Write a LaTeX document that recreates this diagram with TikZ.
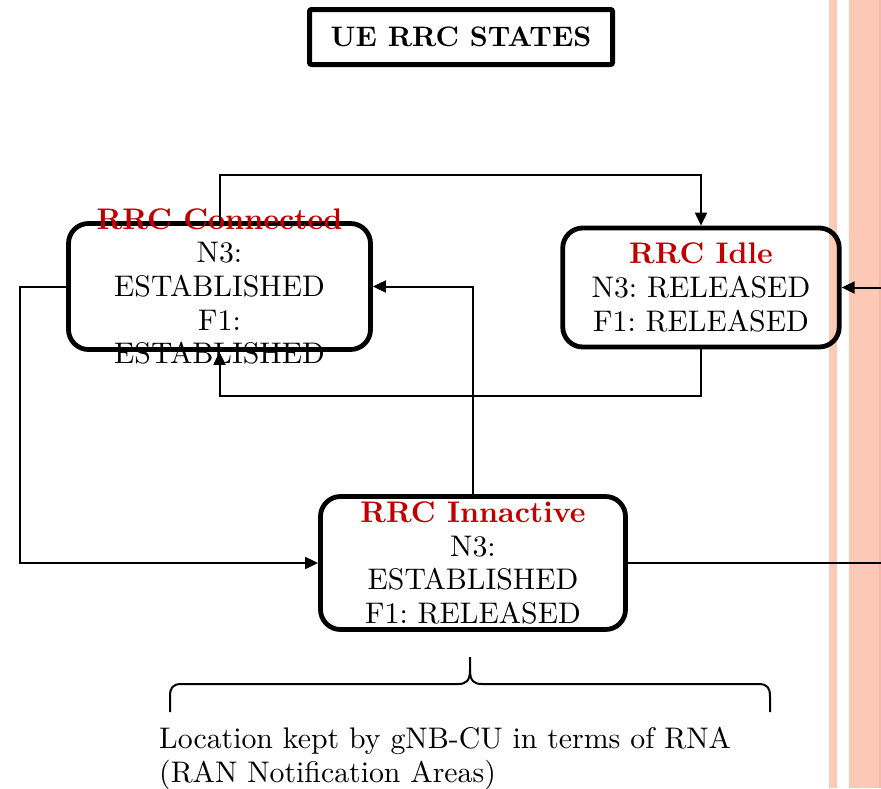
\documentclass[tikz,border=0pt]{standalone}
\usepackage{fontspec}
\setmainfont{lmroman10-regular.otf}[BoldFont=lmroman10-bold.otf]
\usetikzlibrary{arrows.meta}
\definecolor{rrcred}{RGB}{192,0,0}
\definecolor{barpeach}{RGB}{251,201,181}
\definecolor{baredge}{RGB}{244,188,166}
\frenchspacing
\begin{document}
\begin{tikzpicture}[x=1pt,y=-1pt,
  state/.style={draw, line width=4.8pt, rounded corners=20pt, inner sep=0pt},
  link/.style={line width=2pt},
  tip/.style={-{Triangle[length=13pt,width=12pt]}},
  txt/.style={font=\fontsize{29.8}{33.6}\selectfont, align=center, inner sep=0pt}]
\useasboundingbox (0,0) rectangle (881,788);

% decorative side bars
\fill[barpeach] (829,0) rectangle (836.7,788);
\fill[barpeach] (849,0) rectangle (881,788);
\fill[baredge] (879,0) rectangle (880.5,788);

% title
\node[draw, line width=5pt, rounded corners=2pt, minimum width=303pt,
      minimum height=55pt, inner sep=0pt,
      font=\fontsize{28.2}{34}\selectfont\bfseries] (title) at (461,37) {UE RRC STATES};

% state boxes
\node[state, minimum width=302pt, minimum height=126pt] (conn) at (219.5,286.5) {};
\node[state, minimum width=276.5pt, minimum height=119pt] (idle) at (701,287.5) {};
\node[state, minimum width=305pt, minimum height=133pt] (inac) at (473,563) {};

% state texts
\node[txt] (connT) at (conn.center) {\textcolor{rrcred}{\bfseries RRC Connected}\\N3:\\ESTABLISHED\\F1:\\ESTABLISHED};
\node[txt] (idleT) at (idle.center) {\textcolor{rrcred}{\bfseries RRC Idle}\\N3: RELEASED\\F1: RELEASED};
\node[txt] (inacT) at (inac.center) {\textcolor{rrcred}{\bfseries RRC Innactive}\\N3:\\ESTABLISHED\\F1: RELEASED};

% routing helpers
\coordinate (topY) at (0,175);
\coordinate (botY) at (0,396);
\coordinate (leftX) at (20,0);
\coordinate (rightX) at (881,0);

% transitions
\draw[link,tip] (conn.north) -- (conn.north |- topY) -| (idle.north);
\draw[link,tip] (idle.south) -- (idle.south |- botY) -| (conn.south);
\draw[link,tip] (inac.north) |- (conn.east);
\draw[link,tip] (conn.west) -- (conn.west -| leftX) |- (inac.west);
\draw[link] (inac.east) -- (inac.east -| rightX);
\draw[link,tip] (idle.east -| rightX) -- (idle.east);

% brace over the RNA note
\draw[line width=2pt, line join=round]
  (170,712) -- (170,697) .. controls (170,688) and (172,684) .. (182,684)
  -- (458,684) .. controls (466,684) and (470,681) .. (470,670) -- (470,657);
\draw[line width=2pt, line join=round]
  (470,670) .. controls (470,681) and (474,684) .. (482,684)
  -- (758,684) .. controls (768,684) and (770,688) .. (770,697) -- (770,712);

\node[txt, align=left, anchor=north west] (note) at (159,727)
  {Location kept by gNB-CU in terms of RNA\\(RAN Notification Areas)};
\end{tikzpicture}
\end{document}
